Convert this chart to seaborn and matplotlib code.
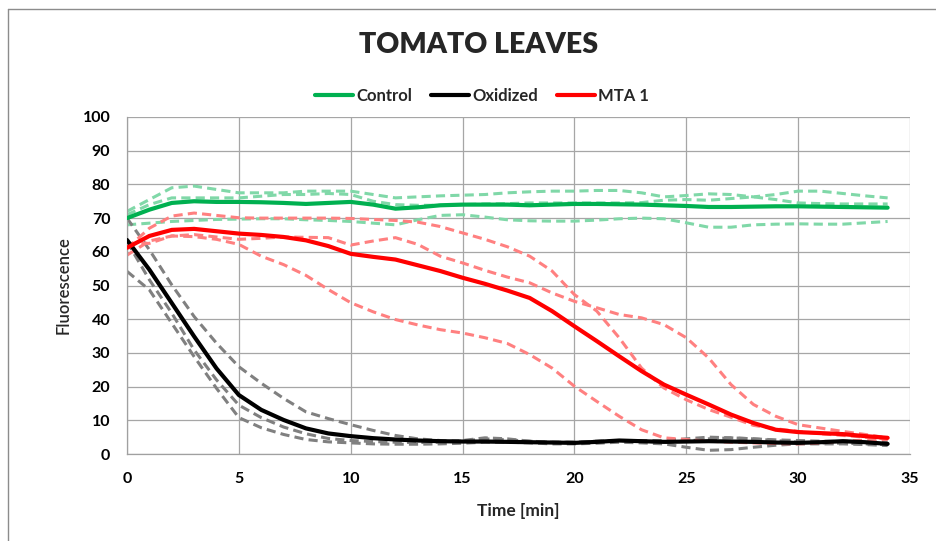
import numpy as np
import pandas as pd
import matplotlib
matplotlib.use("Agg")
import matplotlib.pyplot as plt
import seaborn as sns
from matplotlib.lines import Line2D

# ---------------- data ----------------
time_min = list(range(0, 35))

control_mean = [70, 72.5, 74.5, 75, 74.8, 74.8, 74.7, 74.5, 74.2, 74.5, 74.8, 74, 72.8, 73.2, 73.8, 74, 74,
                74, 73.8, 74, 74.2, 74.2, 74.1, 74, 73.8, 73.6, 73.3, 73.3, 73.4, 73.5, 73.5, 73.4, 73.3, 73.2, 73.1]
control_rep1 = [72, 75.5, 79, 79.5, 78.5, 77.5, 77.5, 77.5, 78, 78, 78, 77, 76, 76.3, 76.6, 76.8, 77,
                77.5, 77.8, 78, 78, 78.2, 78.2, 77.5, 76.3, 76.7, 77.2, 77, 76.3, 77, 78, 78, 77.3, 76.6, 76]
control_rep2 = [71, 74, 76, 76, 76, 76, 76.5, 77, 77, 77.3, 77, 75, 74, 73.8, 73.8, 74, 74.2,
                74.3, 74.5, 74.5, 74.5, 74.5, 74.5, 74.6, 75.3, 75.5, 75.3, 75.8, 76.3, 75.5, 74.5, 74.3, 74.2, 74.2, 74.2]
control_rep3 = [68, 68.5, 69, 69.3, 69.6, 69.7, 69.8, 69.8, 69.5, 69.3, 69, 68.5, 68, 69.5, 70.8, 71, 70.3,
                69.5, 69.2, 69.1, 69.1, 69.4, 69.8, 70, 69.8, 68.6, 67.3, 67.3, 68, 68.2, 68.3, 68.2, 68.2, 68.6, 69]

oxid_mean = [63.5, 54.7, 44.8, 34.9, 25.4, 17.5, 13.1, 10.1, 7.6, 6.1, 5.3, 4.7, 4.3, 4, 3.8, 3.7, 3.7,
             3.6, 3.5, 3.4, 3.3, 3.6, 4, 3.8, 3.6, 3.7, 3.8, 3.7, 3.6, 3.4, 3.3, 3.5, 3.8, 3.5, 3]
oxid_rep1 = [70, 60.6, 50.2, 40.8, 32.9, 25.9, 21, 16.5, 12.5, 10.5, 8.7, 7, 5.5, 4.5, 4, 3.8, 4.5,
             4.2, 3.8, 3.5, 3.5, 3.8, 4, 4, 4, 4.5, 5, 4.8, 4.5, 4.2, 4, 3.8, 3.7, 3.6, 3.5]
oxid_rep2 = [63, 51.7, 41.8, 30.9, 22, 14.5, 10.8, 8, 6, 4.6, 4, 3.7, 3.5, 3.4, 3.5, 4, 4.8,
             4.5, 3.8, 3.5, 3.5, 3.8, 4, 3.8, 3.5, 3.8, 4.5, 4.8, 4.5, 4, 3.5, 3.3, 3.2, 3, 2.8]
oxid_rep3 = [54.2, 48.7, 38.8, 28.9, 19.5, 10.8, 7.8, 5.8, 4.3, 3.6, 3.3, 3, 2.9, 2.9, 3, 3.2, 3.5,
             3.5, 3.3, 3, 3, 3.2, 3.5, 3.3, 3, 2, 1.1, 1.3, 2, 2.6, 3, 3, 3, 2.8, 2.5]

mta_mean = [61.2, 64.7, 66.5, 66.8, 66.1, 65.4, 65, 64.4, 63.4, 61.7, 59.4, 58.5, 57.7, 56, 54.3, 52.3, 50.5,
            48.5, 46.3, 42.4, 37.9, 33.5, 29, 24.6, 20.6, 17.6, 14.7, 11.7, 9.2, 7.2, 6.5, 6.2, 5.9, 5.3, 4.8]
mta_rep1 = [61, 67, 70.6, 71.5, 70.8, 70.1, 70, 70, 70, 70, 69.9, 69.6, 69.3, 68.8, 67.5, 65.6, 63.7,
            61.5, 58.7, 54.3, 47.3, 42.4, 34.5, 25.5, 19.6, 16.1, 13.2, 10.9, 8.5, 7.5, 6.7, 6, 5.5, 5, 4.5]
mta_rep2 = [59, 63.2, 64.7, 65.1, 64.4, 63.7, 64, 64.4, 64.3, 64.2, 62, 63.2, 64.2, 62.2, 58.7, 56.7, 54.5,
            52.5, 50.8, 47.8, 45.3, 43.4, 41.4, 40.4, 38.4, 34.5, 28.5, 20.6, 14.7, 11.2, 8.7, 7.7, 6.7, 5.8, 4.8]
mta_rep3 = [62.5, 62.5, 64.7, 64.5, 63.7, 62.2, 58.7, 56.2, 53, 48.8, 44.9, 42.2, 39.9, 38.3, 36.9, 35.9, 34.5,
            32.8, 29.5, 25.5, 20.1, 15.6, 11.2, 7.2, 4.8, 4.3, 3.8, 3.5, 3.3, 3.1, 3, 3.3, 3.8, 4.1, 4.3]

series_names = ["Control", "Oxidized", "MTA 1"]
x_ticks = [0, 5, 10, 15, 20, 25, 30, 35]
y_ticks = [0, 10, 20, 30, 40, 50, 60, 70, 80, 90, 100]

# ---------------- style ----------------
sns.set_theme(style="white")
plt.rcParams["font.family"] = ["Lato", "DejaVu Sans"]

solid_colors = {"Control": "#00b050", "Oxidized": "#000000", "MTA 1": "#ff0000"}
dash_colors = {"Control": "#80d8a8", "Oxidized": "#808080", "MTA 1": "#ff8080"}

fig = plt.figure(figsize=(9.36, 5.41), dpi=100)
ax = fig.add_axes([127 / 936, (541 - 454) / 541, (910 - 127) / 936, (454 - 117) / 541])

reps = {
    "Control": [control_rep1, control_rep2, control_rep3],
    "Oxidized": [oxid_rep1, oxid_rep2, oxid_rep3],
    "MTA 1": [mta_rep1, mta_rep2, mta_rep3],
}
means = {"Control": control_mean, "Oxidized": oxid_mean, "MTA 1": mta_mean}

# replicate dashed lines
for name in series_names:
    for r in reps[name]:
        df = pd.DataFrame({"t": time_min, "v": r})
        sns.lineplot(data=df, x="t", y="v", ax=ax, color=dash_colors[name],
                     linewidth=2.2, linestyle=(0, (3.0, 1.7)), legend=False, zorder=2)
# mean solid lines
for name in series_names:
    df = pd.DataFrame({"t": time_min, "v": means[name]})
    sns.lineplot(data=df, x="t", y="v", ax=ax, color=solid_colors[name],
                 linewidth=3.0, legend=False, zorder=3)
for ln in ax.get_lines():
    ln.set_solid_capstyle("round")
    ln.set_dash_capstyle("butt")
    ln.set_solid_joinstyle("round")
    ln.set_dash_joinstyle("round")

ax.set_xlim(0, 35)
ax.set_ylim(0, 100)
ax.set_xticks(x_ticks)
ax.set_yticks(y_ticks)
ax.grid(True, color="#a6a6a6", linewidth=0.9)
ax.set_axisbelow(True)
for s in ["top", "right"]:
    ax.spines[s].set_visible(False)
for s in ["left", "bottom"]:
    ax.spines[s].set_color("#a0a0a0")
    ax.spines[s].set_linewidth(0.9)
ax.tick_params(axis="both", direction="out", length=4, width=0.9, color="#a0a0a0",
               labelsize=11.5, labelcolor="#000000")
ax.tick_params(axis="x", pad=9)
ax.tick_params(axis="y", pad=8)
for lab in ax.get_xticklabels() + ax.get_yticklabels():
    lab.set_fontweight("bold")

ax.set_xlabel("Time [min]", fontsize=12.5, fontweight="bold", labelpad=12)
ax.set_ylabel("Fluorescence", fontsize=12, fontweight="semibold", labelpad=8)

fig.text(479 / 936, 1 - 45 / 541, "TOMATO LEAVES", ha="center", va="center",
         fontsize=20.5, fontweight="heavy")

handles = [Line2D([0], [0], color=solid_colors[n], linewidth=3.0, solid_capstyle="round") for n in series_names]
leg = fig.legend(handles, series_names, loc="center", bbox_to_anchor=(482 / 936, 1 - 96 / 541),
                 ncol=3, frameon=False, prop={"weight": "bold", "size": 12},
                 handlelength=2.3, handletextpad=0.2, columnspacing=1.1)

# outer chart border (top and left visible)
fig.add_artist(Line2D([8 / 936, 1.0], [1 - 9 / 541, 1 - 9 / 541], color="#8c8c8c", linewidth=1.0))
fig.add_artist(Line2D([8 / 936, 8 / 936], [0.0, 1 - 9 / 541], color="#8c8c8c", linewidth=1.0))

fig.savefig("out.png", dpi=100, facecolor="white")
